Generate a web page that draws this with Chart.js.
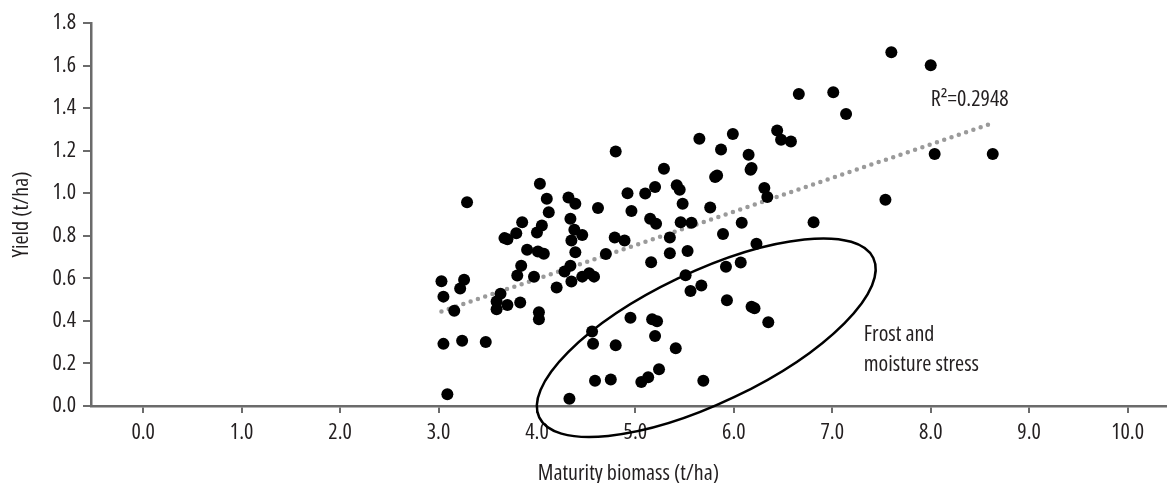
<!DOCTYPE html>
<html>
<head>
<meta charset="utf-8">
<script src="https://cdn.jsdelivr.net/npm/chart.js@4.4.1/dist/chart.umd.min.js"></script>
<style>
  body { margin: 0; background: #fff; }
  #wrap { width: 1172px; height: 483px; }
</style>
</head>
<body>
<div id="wrap"><canvas id="chart" width="1172" height="483"></canvas></div>
<script>
// Maturity biomass (t/ha) and yield (t/ha)
const biomass = [
    3.03, 3.05, 3.05, 3.09, 3.16, 3.22, 3.24, 3.26, 3.29, 3.48,
    3.59, 3.59, 3.63, 3.67, 3.70, 3.70, 3.79, 3.80, 3.83, 3.84,
    3.85, 3.90, 3.97, 4.00, 4.01, 4.02, 4.02, 4.03, 4.05, 4.07,
    4.10, 4.12, 4.20, 4.28, 4.32, 4.33, 4.34, 4.34, 4.35, 4.35,
    4.38, 4.39, 4.39, 4.46, 4.46, 4.53, 4.56, 4.57, 4.58, 4.59,
    4.62, 4.70, 4.75, 4.79, 4.80, 4.80, 4.89, 4.92, 4.95, 4.96,
    5.06, 5.10, 5.13, 5.15, 5.16, 5.17, 5.20, 5.20, 5.21, 5.22,
    5.24, 5.29, 5.35, 5.35, 5.41, 5.42, 5.45, 5.46, 5.48, 5.51,
    5.53, 5.56, 5.57, 5.65, 5.67, 5.69, 5.76, 5.81, 5.83, 5.87,
    5.89, 5.92, 5.93, 5.99, 6.07, 6.08, 6.15, 6.17, 6.18, 6.18,
    6.21, 6.23, 6.31, 6.34, 6.35, 6.44, 6.48, 6.58, 6.66, 6.81,
    7.01, 7.14, 7.54, 7.60, 8.00, 8.04, 8.63
];
const yieldVals = [
    0.586, 0.514, 0.292, 0.055, 0.448, 0.552, 0.307, 0.593, 0.958, 0.301,
    0.455, 0.491, 0.527, 0.789, 0.784, 0.475, 0.812, 0.613, 0.486, 0.659,
    0.864, 0.734, 0.607, 0.815, 0.726, 0.441, 0.408, 1.044, 0.848, 0.715,
    0.974, 0.911, 0.557, 0.632, 0.980, 0.034, 0.880, 0.659, 0.778, 0.585,
    0.828, 0.950, 0.723, 0.804, 0.608, 0.624, 0.350, 0.293, 0.608, 0.119,
    0.930, 0.714, 0.124, 0.792, 1.196, 0.285, 0.778, 1.000, 0.415, 0.917,
    0.113, 0.999, 0.135, 0.880, 0.676, 0.408, 1.029, 0.329, 0.856, 0.398,
    0.173, 1.115, 0.792, 0.718, 0.271, 1.038, 1.016, 0.864, 0.950, 0.615,
    0.729, 0.540, 0.861, 1.256, 0.566, 0.119, 0.933, 1.076, 1.083, 1.206,
    0.808, 0.654, 0.497, 1.278, 0.674, 0.861, 1.181, 1.110, 1.118, 0.467,
    0.459, 0.762, 1.024, 0.982, 0.394, 1.295, 1.251, 1.243, 1.466, 0.864,
    1.474, 1.372, 0.969, 1.662, 1.601, 1.184, 1.184
];

// Linear trend line end points
const trendX = [3.03, 8.64];
const trendY = [0.444, 1.331];

const xTicks = [0, 1, 2, 3, 4, 5, 6, 7, 8, 9, 10];

// Open Sans is variable here, so "condensed" narrows it like the original's condensed face
const FAMILY = "'Open Sans', sans-serif";
const STRETCH = "condensed";
const SIZE = 22;
const AXIS = "#6b6b6b";
const TEXT = "#231f20";

// Ellipse round the frost / moisture stress points, in data units
const stressEllipse = { cx: 5.72, cy: 0.321, rx: 1.88, ry: 0.667, angle: -25.5 };

const annotations = {
    id: "annotations",
    afterDatasetsDraw(chart) {
        const { ctx, scales: { x, y } } = chart;
        const unit = x.getPixelForValue(1) - x.getPixelForValue(0);

        ctx.save();
        ctx.strokeStyle = "#000";
        ctx.lineWidth = 2.5;
        ctx.beginPath();
        ctx.ellipse(
            x.getPixelForValue(stressEllipse.cx),
            y.getPixelForValue(stressEllipse.cy),
            stressEllipse.rx * unit,
            stressEllipse.ry * unit,
            stressEllipse.angle * Math.PI / 180,
            0, Math.PI * 2
        );
        ctx.stroke();

        ctx.fillStyle = TEXT;
        ctx.font = STRETCH + " " + SIZE + "px " + FAMILY;
        ctx.textAlign = "left";
        ctx.textBaseline = "middle";
        ctx.fillText("R\u00B2=0.2948", x.getPixelForValue(8.0), y.getPixelForValue(1.439));
        ctx.fillText("Frost and", x.getPixelForValue(7.32), y.getPixelForValue(0.334));
        ctx.fillText("moisture stress", x.getPixelForValue(7.32), y.getPixelForValue(0.193));
        ctx.restore();
    }
};

const ctx = document.getElementById("chart").getContext("2d");
new Chart(ctx, {
    type: "scatter",
    data: {
        datasets: [
            {
                label: "Yield",
                data: biomass.map((b, i) => ({ x: b, y: yieldVals[i] })),
                backgroundColor: "#000",
                borderWidth: 0,
                pointRadius: 6,
                pointHoverRadius: 6
            },
            {
                label: "Trend",
                type: "line",
                data: trendX.map((t, i) => ({ x: t, y: trendY[i] })),
                borderColor: "#9a9a9a",
                borderWidth: 4.5,
                borderDash: [0, 7.7],
                borderCapStyle: "round",
                pointRadius: 0,
                fill: false
            }
        ]
    },
    options: {
        responsive: false,
        animation: false,
        devicePixelRatio: 1,
        layout: { padding: { top: 23, right: 0, bottom: 0, left: 0 } },
        plugins: {
            legend: { display: false },
            tooltip: { enabled: false }
        },
        scales: {
            x: {
                type: "linear",
                min: -0.53,
                max: 10.39,
                afterBuildTicks: axis => { axis.ticks = xTicks.map(v => ({ value: v })); },
                afterFit: axis => { axis.height = 77; },
                border: { display: true, color: AXIS, width: 2.5 },
                grid: { display: true, drawOnChartArea: false, drawTicks: true, tickLength: 7, color: AXIS, lineWidth: 2 },
                ticks: {
                    color: TEXT,
                    font: { family: FAMILY, weight: STRETCH, size: SIZE },
                    padding: 7,
                    maxRotation: 0,
                    callback: v => v.toFixed(1)
                },
                title: {
                    display: true,
                    text: "Maturity biomass (t/ha)",
                    color: TEXT,
                    font: { family: FAMILY, weight: STRETCH, size: SIZE, lineHeight: 0.8 },
                    padding: 0
                }
            },
            y: {
                min: 0,
                max: 1.8,
                afterFit: axis => { axis.width = 91; },
                border: { display: true, color: AXIS, width: 2.5 },
                grid: { display: true, drawOnChartArea: false, drawTicks: true, tickLength: 8, color: AXIS, lineWidth: 2 },
                ticks: {
                    stepSize: 0.2,
                    color: TEXT,
                    font: { family: FAMILY, weight: STRETCH, size: SIZE },
                    padding: 7,
                    callback: v => v.toFixed(1)
                },
                title: {
                    display: true,
                    text: "Yield (t/ha)",
                    color: TEXT,
                    font: { family: FAMILY, weight: STRETCH, size: SIZE, lineHeight: 1.2 },
                    padding: { top: 8.5, bottom: 0 }
                }
            }
        }
    },
    plugins: [annotations]
});
</script>
</body>
</html>
